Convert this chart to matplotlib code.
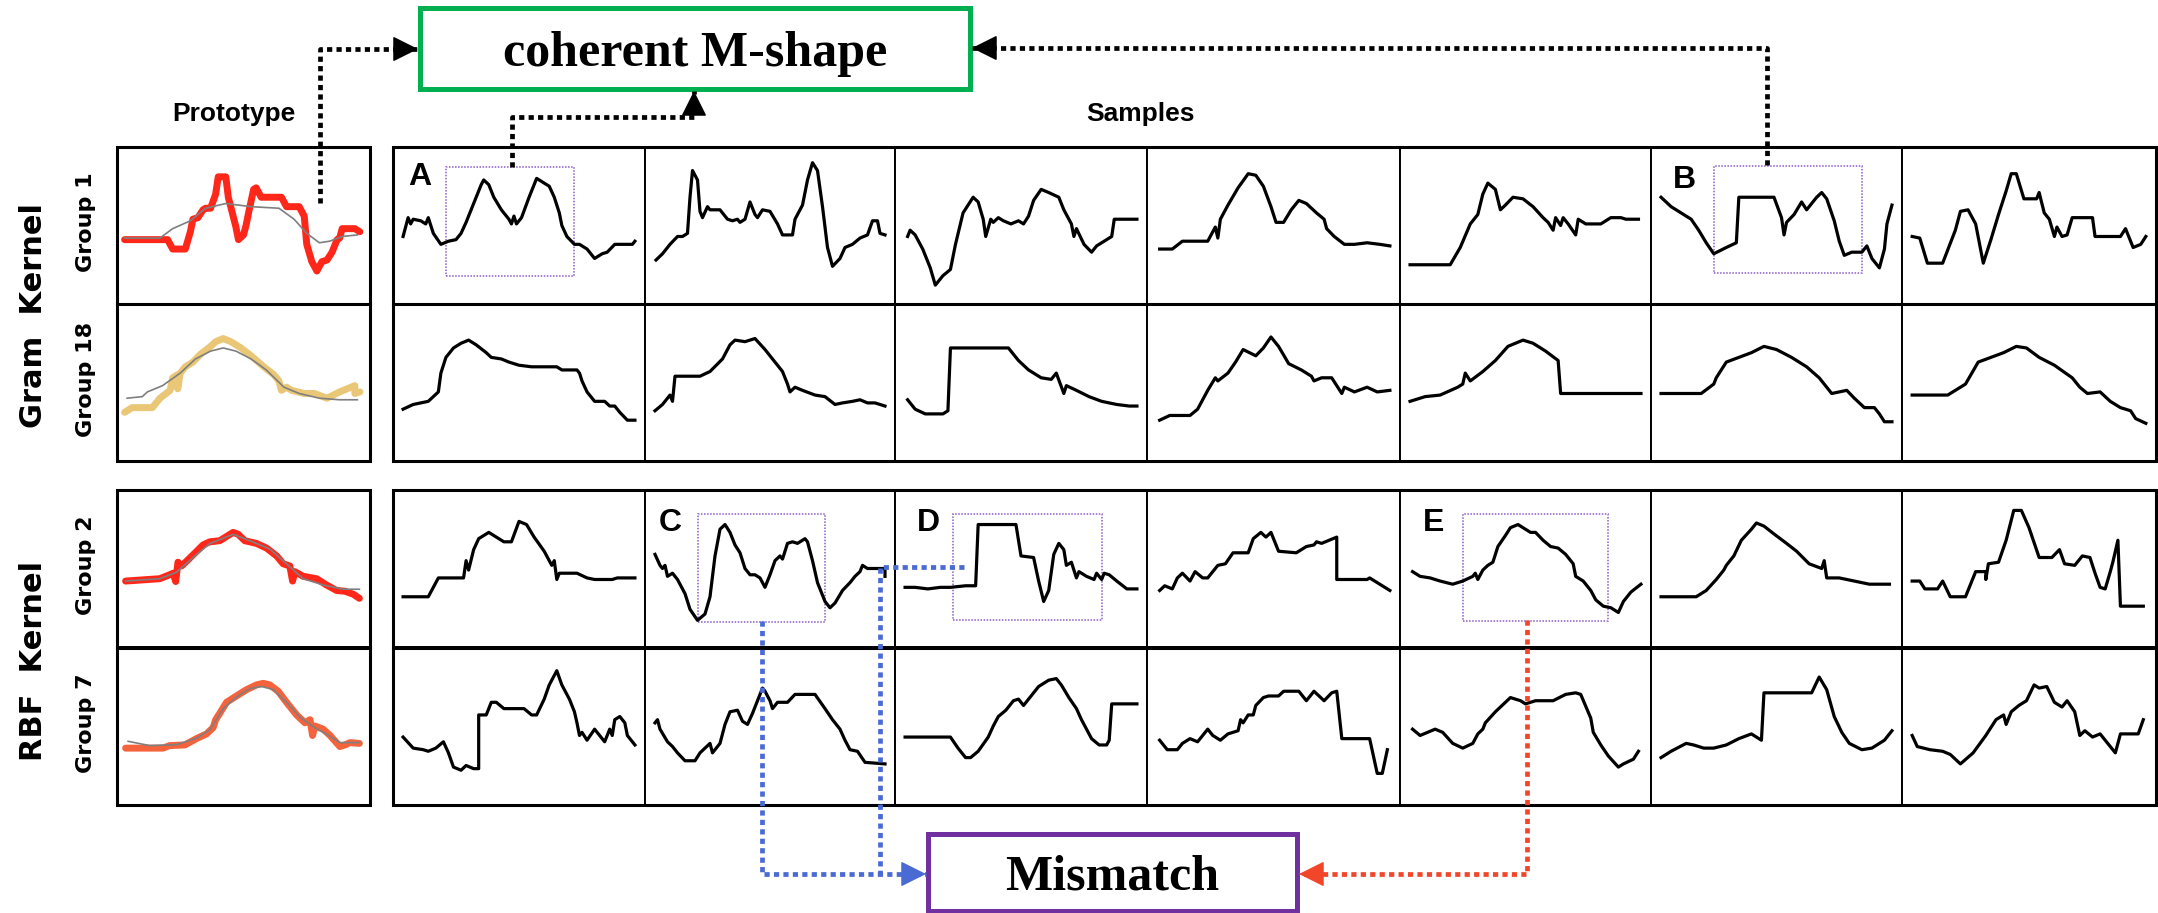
import numpy as np
import matplotlib.pyplot as plt
from matplotlib.patches import Rectangle

W, H = 2158, 913

# every curve: (position along the window 0-100, scaled value 0-100)
proto_g1 = [(3,41),(20,41),(22,35),(27,35),(29,46),(30,54),(32,55),(34,60),(35,61),(37,61),(39,70),(40,81),
            (43,81),(44,68),(47,49),(48,41),(50,44),(51,50),(52,58),(54,73),(55,74),(57,68),(65,68),(67,62),
            (72,62),(74,56),(75,38),(77,27),(79,21),(81,27),(83,28),(85,33),(87,41),(88,42),(89,48),(94,48),(96,46)]
proto_g1_fit = [(3,42),(17,42),(22,48),(29,53),(35,61),(43,64),(53,62),(64,61),(70,54),(75,45),(80,39),
                (84,40),(89,43),(95,44)]
proto_g18 = [(3,31),(6,34),(14,34),(17,40),(21,45),(22,53),(24,55),(24,46),(25,56),(27,60),(30,63),(33,68),
             (37,73),(39,76),(42,78),(45,76),(49,72),(53,67),(58,60),(62,55),(64,51),(65,45),(67,47),(69,45),
             (74,43),(78,43),(83,40),(88,44),(94,48),(94,43),(96,44)]
proto_g18_fit = [(4,40),(10,41),(12,44),(18,48),(25,56),(31,65),(37,70),(42,72),(47,70),(53,65),(59,58),
                 (66,47),(72,43),(80,40),(88,39),(95,39)]
proto_g2 = [(3.4,42),(16.9,43.5),(20.8,46),(22.2,47),(23.2,41.7),(24.1,54),(25.5,51.6),(28.1,55.6),(30.7,59.7),
            (34,65),(36.7,67),(40.6,67.7),(43.3,70.4),(45.9,73),(47.9,71.8),(50.5,67.7),(55.1,66),(59.1,63),
            (63.1,58),(65.7,53),(68.3,51.6),(69.4,42),(70.3,48),(73.6,45),(78.9,43.5),(82.8,39.5),(86.8,36),
            (90.1,35.5),(93.4,33.6),(95.8,31)]
proto_g2_fit = [(3.4,42),(16.9,43.5),(23.5,47.6),(30.1,57),(36.7,65.9),(45.9,71.8),(52.5,67.7),(60.4,62.4),
                (67,53),(73.6,43.5),(81.5,39.5),(89.4,36.8),(95.8,36.8)]
proto_g7 = [(3.4,36),(18.2,36),(20.8,37.6),(26.8,38),(31.4,42),(35.4,45),(38,49),(39,54),(40.6,58),(43.3,65),
            (47.2,69),(51.2,73),(55.1,76),(57.8,77),(60.4,76),(63.7,72),(67,65),(71,57),(74.3,52),(76.3,54),
            (77.3,44),(78.2,50),(81.5,48),(84.2,44),(88.1,37),(90.1,38),(92.1,39.5),(95.8,39)]
proto_g7_fit = [(4.4,40.3),(12.9,37.6),(23.5,38.2),(31.4,42.2),(36.7,47.6),(42,61),(47.2,68.3),(52.5,73.7),
                (57.1,75),(61.7,73.1),(67,65),(72.3,55.6),(77.6,49.5),(82.8,44.9),(88.1,39.5),(95.8,39.5)]

gram_g1_samples = [
    [(4,43),(5,49),(6,55),(7,51),(8,54),(11,53),(13,51),(14,55),(16,45),(19,38),(22,40),(25,41),(27,45),(29,52),
     (32,64),(35,76),(36,79),(38,76),(40,68),(43,60),(46,54),(47,51),(48,56),(49,51),(51,55),(54,68),(57,80),
     (59,78),(62,75),(64,68),(66,58),(67,50),(69,43),(72,38),(74,38),(77,35),(79,31),(80,29),(83,32),(85,33),
     (88,38),(95,38),(96,40)],
    [(4.4,28),(7,32),(10,38),(13,43),(15,43),(17,45),(18,68),(19,85),(21,79),(22,59),(23,55),(25,62),(26,60),
     (30,60),(33,54),(35,53),(37,54),(38,52),(40,54),(42,65),(44,57),(45,55),(47,60),(50,59),(53,51),(55,44),
     (59,44),(60,54),(63,63),(65,79),(67,90),(69,85),(71,62),(73,36),(75,24),(78,29),(80,36),(83,38),(86,42),
     (89,44),(91,53),(93,53),(94,45),(96,44)],
    [(5,43),(6,47),(8,44),(11,35),(14,23),(16,12),(19,18),(22,22),(24,38),(27,58),(29,63),(31,68),(33,65),
     (35,54),(36,43),(38,54),(39,52),(41,55),(43,53),(46,51),(49,53),(51,51),(53,56),(55,66),(58,73),(61,71),
     (65,68),(67,60),(70,51),(71,43),(72,48),(75,38),(78,33),(80,37),(83,40),(86,43),(87,54),(96,54)],
    [(5,35),(10,35),(14,40),(24,40),(27,49),(28,42),(29,54),(32,63),(36,74),(40,83),(43,82),(46,75),(49,62),
     (51,52),(54,52),(57,60),(60,66),(63,64),(67,58),(70,54),(71,48),(74,43),(78,38),(82,38),(87,39),(92,38),
     (96,37)],
    [(4,25),(20,25),(24,36),(28,51),(31,57),(33,70),(35,77),(38,73),(40,60),(42,63),(45,68),(49,67),(53,62),
     (57,55),(59,52),(61,47),(62,55),(64,50),(65,55),(67,51),(70,44),(71,54),(74,51),(80,51),(84,55),(88,55),
     (90,54),(95,54)],
    [(4,68),(8,62),(12,58),(16,54),(19,47),(22,39),(25,32),(30,36),(34,39),(35,68),(49,68),(52,55),(53,44),
     (54,52),(57,57),(60,65),(62,60),(66,68),(68,71),(70,67),(73,53),(75,40),(77,31),(80,33),(84,33),(86,37),
     (88,29),(91,23),(93,35),(94,51),(96,63)],
    [(4,43),(7,42),(10,26),(16,26),(21,47),(23,59),(26,60),(29,51),(32,26),(35,41),(38,57),(41,72),(43,83),
     (45,83),(48,67),(53,67),(54,71),(56,58),(58,54),(60,43),(61,49),(63,43),(65,44),(67,55),(75,55),(76,43),
     (86,43),(88,48),(91,36),(94,38),(96,43)],
]

gram_g18_samples = [
    [(4,33),(8,36),(11,37),(14,38),(16,41),(18,44),(19,56),(21,66),(24,72),(27,75),(30,77),(33,74),(37,69),
     (39,66),(43,65),(46,63),(50,61),(55,60),(65,60),(67,58),(73,58),(74,56),(75,51),(77,44),(80,38),(84,38),
     (86,35),(88,35),(90,31),(93,26),(96,26)],
    [(4,32),(7,36),(10,42),(11,38),(12,54),(22,54),(26,57),(31,65),(34,74),(36,77),(40,76),(44,78),(48,71),
     (52,63),(55,57),(57,49),(58,44),(60,47),(63,45),(68,42),(72,41),(76,36),(79,37),(83,38),(86,39),(89,37),
     (92,37),(96,35)],
    [(5,39),(8,33),(12,30),(19,30),(21,32),(22,72),(45,72),(49,64),(53,58),(58,53),(62,52),(64,56),(67,43),
     (68,48),(72,45),(77,41),(82,38),(88,36),(93,35),(96,35)],
    [(5,26),(9,29),(17,29),(20,33),(24,45),(27,53),(28,51),(32,56),(35,63),(38,71),(43,67),(46,72),(49,79),
     (52,73),(56,62),(61,58),(65,54),(66,51),(69,53),(73,53),(75,48),(77,43),(78,47),(82,44),(87,47),(91,44),
     (96,45)],
    [(4,38),(10,41),(16,42),(23,47),(25,49),(26,56),(28,51),(33,57),(38,64),(43,73),(49,77),(53,75),(58,70),
     (63,64),(64,43),(79,43),(96,43)],
    [(4,43),(20,43),(25,49),(26,53),(30,63),(35,66),(40,69),(45,73),(50,71),(56,66),(62,60),(67,53),(70,47),
     (72,43),(78,45),(81,40),(85,34),(89,34),(91,30),(93,25),(96,25)],
    [(4,42),(18,42),(23,47),(25,49),(30,63),(35,66),(40,69),(45,73),(49,72),(54,66),(60,61),(67,53),(70,47),
     (73,43),(78,44),(82,38),(86,34),(90,32),(92,27),(96,24)],
]

rbf_g2_samples = [
    [(4,32),(14,32),(18,44),(28,44),(29,55),(30,49),(32,62),(34,69),(38,73),(40,71),(44,67),(47,67),(50,80),
     (53,78),(56,70),(60,61),(63,52),(64,55),(65,43),(66,47),(73,47),(77,44),(80,43),(87,43),(89,44),(96,44)],
    [(4,59),(6,52),(7,50),(8,52),(9,45),(11,47),(13,43),(16,34),(18,24),(21,17),(24,21),(26,32),(28,58),(30,75),
     (32,78),(34,73),(36,65),(38,60),(40,50),(42,46),(44,46),(46,44),(48,38),(50,46),(52,55),(54,58),(55,56),
     (57,66),(59,67),(61,66),(64,69),(65,67),(67,55),(69,41),(72,29),(74,25),(76,28),(79,36),(82,41),(84,45),
     (86,48),(87,52),(89,50),(96,50),(96,45)],
    [(4,38),(8,38),(13,37),(18,38),(22,38),(28,39),(32,39),(33,78),(48,78),(50,58),(55,57),(57,42),(59,29),
     (61,36),(63,59),(65,66),(67,62),(68,52),(70,54),(72,44),(73,48),(76,45),(79,43),(80,47),(82,43),(83,47),
     (85,46),(88,42),(92,37),(96,37)],
    [(5,36),(7,39),(10,37),(12,44),(14,47),(17,42),(19,48),(22,44),(24,44),(26,48),(28,52),(31,53),(34,60),
     (40,60),(42,69),(45,73),(47,70),(49,73),(52,61),(59,60),(63,64),(66,65),(67,67),(69,66),(72,68),(75,70),
     (75,43),(87,43),(88,44),(92,40),(96,36)],
    [(5,48),(8,45),(12,44),(16,42),(21,40),(25,42),(29,45),(30,47),(31,43),(33,49),(35,52),(37,54),(39,64),
     (42,71),(44,76),(47,78),(49,76),(52,73),(54,73),(57,68),(60,64),(63,63),(66,59),(69,53),(70,45),(73,42),
     (76,36),(78,30),(81,26),(84,25),(87,22),(89,29),(92,35),(96,40)],
    [(4,32),(18,32),(22,36),(26,43),(29,49),(30,52),(33,58),(36,68),(40,75),(42,79),(45,77),(49,72),(54,66),
     (58,61),(63,53),(68,50),(69,55),(70,44),(75,44),(81,42),(87,40),(95,40)],
    [(4,42),(7,42),(9,37),(14,37),(16,42),(19,32),(25,32),(29,48),(33,48),(33,43),(34,53),(38,54),(41,68),
     (44,87),(47,87),(50,76),(54,57),(59,57),(62,62),(64,53),(68,52),(71,58),(74,57),(76,47),(78,38),(80,37),
     (82,48),(83,54),(85,68),(86,26),(95,26)],
]

rbf_g7_samples = [
    [(4,43),(8,36),(12,35),(14,34),(17,36),(20,40),(22,33),(24,24),(27,22),(29,25),(32,23),(34,23),(34,57),
     (37,57),(39,65),(41,65),(44,61),(52,61),(55,57),(57,57),(60,67),(62,76),(65,85),(67,76),(70,67),(72,59),
     (73,52),(74,44),(75,46),(77,41),(80,48),(84,40),(86,48),(87,44),(88,54),(90,56),(92,52),(93,44),(96,38)],
    [(4,52),(5,54),(6,48),(9,40),(11,37),(13,33),(16,28),(20,28),(22,33),(24,36),(26,39),(27,33),(30,39),
     (32,51),(34,59),(37,60),(39,53),(41,51),(43,58),(45,66),(47,74),(48,72),(50,66),(51,61),(53,65),(57,65),
     (60,70),(68,70),(72,61),(75,54),(78,48),(80,41),(82,35),(85,34),(88,27),(96,26)],
    [(4,43),(22,43),(25,36),(28,30),(30,30),(33,34),(37,43),(39,50),(41,56),(44,60),(47,66),(49,67),(51,63),
     (54,69),(57,75),(61,79),(64,80),(66,76),(69,68),(72,61),(74,54),(76,48),(78,42),(81,38),(84,38),(85,41),
     (86,64),(96,64)],
    [(5,41),(8,35),(12,35),(14,39),(17,42),(20,40),(24,48),(26,44),(29,41),(32,45),(36,47),(37,54),(38,52),
     (40,57),(42,57),(43,63),(46,68),(48,69),(52,69),(54,72),(60,72),(63,66),(66,72),(70,66),(73,71),(75,72),
     (77,42),(88,42),(91,20),(93,20),(95,35)],
    [(5,48),(8,44),(14,48),(17,46),(21,39),(25,36),(29,39),(31,45),(33,48),(34,52),(38,59),(42,65),(44,68),
     (48,66),(50,64),(54,66),(61,66),(66,70),(70,71),(72,70),(76,55),(77,46),(80,38),(83,31),(87,24),(89,26),
     (93,29),(95,34)],
    [(4,30),(8,34),(14,39),(17,38),(21,36),(25,36),(30,38),(35,42),(40,45),(44,41),(45,71),(64,71),(67,81),
     (70,73),(73,56),(76,46),(79,39),(84,35),(88,36),(93,41),(96,47)],
    [(4,44),(6,37),(11,35),(16,34),(19,32),(23,26),(28,33),(33,44),(37,54),(40,57),(41,51),(43,59),(46,63),
     (49,66),(52,76),(54,74),(57,75),(60,65),(63,62),(65,66),(68,59),(70,44),(72,47),(75,43),(78,45),(81,39),
     (84,33),(86,45),(93,45),(95,54)],
]

# highlighted windows: (row, column, x0, x1, y0, y1) in cell units
window_boxes = [(0, 0, 21, 72, 18, 87), (0, 5, 25, 84, 20, 88),
                (2, 1, 21, 72, 16, 84.5), (2, 2, 23, 82, 17, 84.5), (2, 4, 25, 83, 16.5, 84.5)]

prototypes = [(proto_g1, proto_g1_fit, '#ff1b0d'), (proto_g18, proto_g18_fit, '#e9c46f'),
              (proto_g2, proto_g2_fit, '#ff1b0d'), (proto_g7, proto_g7_fit, '#f55b32')]
sample_rows = [gram_g1_samples, gram_g18_samples, rbf_g2_samples, rbf_g7_samples]
group_names = ['Group 1', 'Group 18', 'Group 2', 'Group 7']

col_edges = [393, 645, 895, 1147, 1400, 1651, 1902, 2156]
row_edges = [(147, 304), (304, 461), (490, 647), (647, 805)]
proto_x = (117, 370)

fig = plt.figure(figsize=(W / 100, H / 100), dpi=100)
fig.patch.set_facecolor('white')


def px_axes(x0, y0, x1, y1):
    ax = fig.add_axes([x0 / W, 1 - y1 / H, (x1 - x0) / W, (y1 - y0) / H])
    ax.set_xlim(0, 100)
    ax.set_ylim(0, 100)
    ax.set_xticks([])
    ax.set_yticks([])
    for s in ax.spines.values():
        s.set_linewidth(1.4)
    return ax


# prototype column
for (pts, fit, col), (y0, y1) in zip(prototypes, row_edges):
    ax = px_axes(proto_x[0], y0, proto_x[1], y1)
    x, y = np.array(pts).T
    ax.plot(x, y, color=col, lw=5.0, solid_joinstyle='round', solid_capstyle='round', alpha=0.95)
    fx, fy = np.array(fit).T
    ax.plot(fx, fy, color='#7f7f7f', lw=1.2)

# sample grid
cells = {}
for r, (row, (y0, y1)) in enumerate(zip(sample_rows, row_edges)):
    for c, pts in enumerate(row):
        ax = px_axes(col_edges[c], y0, col_edges[c + 1], y1)
        x, y = np.array(pts).T
        ax.plot(x, y, color='black', lw=2.3, solid_joinstyle='round')
        cells[(r, c)] = ax

for r, c, bx0, bx1, by0, by1 in window_boxes:
    cells[(r, c)].add_patch(Rectangle((bx0, by0), bx1 - bx0, by1 - by0, fill=False,
                                      ec='#8c5cc8', lw=1.1, ls=(0, (1, 1))))

# overlay in pixel units for frames, labels and connectors
ov = fig.add_axes([0, 0, 1, 1], zorder=10)
ov.set_xlim(0, W)
ov.set_ylim(H, 0)
ov.axis('off')
ov.patch.set_alpha(0)

for top, bot in [(147, 461), (490, 805)]:
    for xa, xb in [proto_x, (col_edges[0], col_edges[-1])]:
        ov.add_patch(Rectangle((xa, top), xb - xa, bot - top, fill=False, ec='black', lw=2.2))
        ov.plot([xa, xb], [(top + bot) / 2 + 0.5, (top + bot) / 2 + 0.5], color='black', lw=2.2)

sans = ['DejaVu Sans']
head_font = ['Liberation Sans', 'DejaVu Sans']
ov.text(234, 121, 'Prototype', ha='center', va='baseline', fontsize=19, fontweight='bold', family=head_font)
ov.text(1140, 121, 'Samples', ha='center', va='baseline', fontsize=19, fontweight='bold', family=head_font)
ov.text(34, 315, 'Gram  Kernel', ha='center', va='center', rotation=90, fontsize=22,
        fontweight='bold', family=sans)
ov.text(34, 661, 'RBF  Kernel', ha='center', va='center', rotation=90, fontsize=22,
        fontweight='bold', family=sans)
for name, (y0, y1) in zip(group_names, row_edges):
    ov.text(86, (y0 + y1) / 2 - 3, name, ha='center', va='center', rotation=90, fontsize=16,
            fontweight='bold', family=sans)

for letter, lx, ly in [('A', 420, 177), ('B', 1684, 180), ('C', 670, 523), ('D', 928, 523), ('E', 1434, 523)]:
    ov.text(lx, ly, letter, ha='center', va='center', fontsize=23, fontweight='bold', family=head_font)

ov.add_patch(Rectangle((420, 8), 550, 81, fc='white', ec='#00b050', lw=3.6))
ov.text(695, 66, 'coherent M-shape', ha='center', va='baseline', fontsize=36, fontweight='bold',
        family=['Liberation Serif', 'DejaVu Serif'])
ov.add_patch(Rectangle((928, 834), 369, 77, fc='white', ec='#7030a0', lw=3.6))
ov.text(1112, 890, 'Mismatch', ha='center', va='baseline', fontsize=36, fontweight='bold',
        family=['Liberation Serif', 'DejaVu Serif'])

dots = (0, (1.1, 0.9))


def connector(xs, ys, color, head=True):
    ov.plot(xs, ys, color=color, lw=3.4, ls=dots)
    if head:
        dx, dy = xs[-1] - xs[-2], ys[-1] - ys[-2]
        n = np.hypot(dx, dy)
        ov.annotate('', xy=(xs[-1], ys[-1]), xytext=(xs[-1] - dx / n * 6, ys[-1] - dy / n * 6),
                    arrowprops=dict(arrowstyle='-|>,head_length=0.9,head_width=0.45', color=color,
                                    lw=1, mutation_scale=18, shrinkA=0, shrinkB=0))


connector([320, 320, 418], [203, 49, 49], 'black')
connector([512, 512, 694, 694], [167, 117, 117, 91], 'black')
connector([1767, 1767, 972], [165, 48, 48], 'black')

blue = '#4a6ad4'
connector([762, 762, 926], [621, 874, 874], blue)
connector([964, 880, 880], [567, 567, 874], blue, head=False)
connector([1527, 1527, 1299], [620, 874, 874], '#f2462b')

fig.savefig('out.png', dpi=100)
